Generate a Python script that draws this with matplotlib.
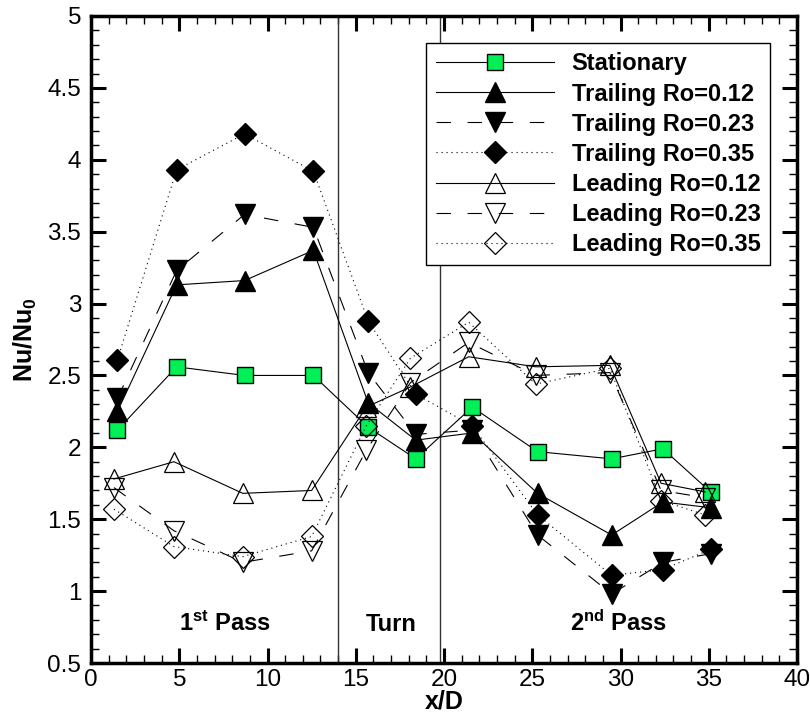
import matplotlib
matplotlib.use("Agg")
import matplotlib.pyplot as plt
from matplotlib.ticker import MultipleLocator

plt.rcParams['font.family'] = ['Liberation Sans', 'DejaVu Sans']
plt.rcParams['mathtext.fontset'] = 'custom'
plt.rcParams['mathtext.rm'] = 'Liberation Sans:bold'
plt.rcParams['mathtext.bf'] = 'Liberation Sans:bold'
plt.rcParams['mathtext.it'] = 'Liberation Sans:bold'

# ---- data ----
x_trail = [1.5, 4.85, 8.7, 12.6, 15.7, 18.4, 21.6, 25.3, 29.5, 32.4, 35.1]
x_lead = [1.3, 4.7, 8.6, 12.5, 15.6, 18.1, 21.4, 25.2, 29.4, 32.3, 34.8]

stationary = [2.12, 2.56, 2.50, 2.50, 2.14, 1.92, 2.28, 1.97, 1.92, 1.99, 1.69]
trail_012 = [2.25, 3.13, 3.16, 3.37, 2.31, 2.05, 2.10, 1.68, 1.39, 1.62, 1.58]
trail_023 = [2.34, 3.23, 3.62, 3.53, 2.52, 2.09, 2.12, 1.39, 0.98, 1.20, 1.26]
trail_035 = [2.61, 3.93, 4.18, 3.92, 2.88, 2.37, 2.15, 1.53, 1.11, 1.15, 1.29]
lead_012 = [1.78, 1.90, 1.68, 1.70, 2.28, 2.42, 2.63, 2.56, 2.57, 1.75, 1.69]
lead_023 = [1.72, 1.42, 1.20, 1.28, 1.98, 2.45, 2.73, 2.50, 2.52, 1.70, 1.65]
lead_035 = [1.57, 1.31, 1.24, 1.38, 2.15, 2.62, 2.87, 2.44, 2.55, 1.63, 1.53]

labels = ["Stationary", "Trailing Ro=0.12", "Trailing Ro=0.23", "Trailing Ro=0.35",
          "Leading Ro=0.12", "Leading Ro=0.23", "Leading Ro=0.35"]

region_x = [14.0, 19.8]
region_labels = ["1$^{\\mathregular{st}}$ Pass", "Turn", "2$^{\\mathregular{nd}}$ Pass"]
region_label_x = [7.6, 17.0, 29.9]

fig = plt.figure(figsize=(8.1, 7.19), dpi=100)
ax = fig.add_axes([91/810, 1-663/719, 706/810, 647/719])

lw = 0.8
dash = (0, (13, 15))
dot = (0, (1, 3.5))
green = '#00F055'

ax.plot(x_trail, stationary, color='black', lw=lw, ls='-', marker='s', ms=11.5,
        mfc=green, mec='black', mew=1.0, label=labels[0], zorder=3)
ax.plot(x_trail, trail_012, color='black', lw=lw, ls='-', marker='^', ms=14,
        mfc='black', mec='black', label=labels[1], zorder=3)
ax.plot(x_trail, trail_023, color='black', lw=lw, ls=dash, marker='v', ms=14,
        mfc='black', mec='black', label=labels[2], zorder=3)
ax.plot(x_trail, trail_035, color='black', lw=lw, ls=dot, marker='D', ms=11,
        mfc='black', mec='black', label=labels[3], zorder=3)
ax.plot(x_lead, lead_012, color='black', lw=lw, ls='-', marker='^', ms=14,
        mfc='none', mec='black', mew=0.9, label=labels[4], zorder=4)
ax.plot(x_lead, lead_023, color='black', lw=lw, ls=dash, marker='v', ms=14,
        mfc='none', mec='black', mew=0.9, label=labels[5], zorder=4)
ax.plot(x_lead, lead_035, color='black', lw=lw, ls=dot, marker='D', ms=11,
        mfc='none', mec='black', mew=0.9, label=labels[6], zorder=4)

for xv in region_x:
    ax.axvline(xv, color='#333333', lw=1.0, zorder=2)

for xt, t in zip(region_label_x, region_labels):
    ax.text(xt, 0.72, t, ha='center', va='baseline', fontsize=17, fontweight='bold')

ax.set_xlim(0, 40)
ax.set_ylim(0.5, 5)
ax.xaxis.set_major_locator(MultipleLocator(5))
ax.xaxis.set_minor_locator(MultipleLocator(1))
ax.yaxis.set_minor_locator(MultipleLocator(0.1))
ax.set_yticks([0.5, 1, 1.5, 2, 2.5, 3, 3.5, 4, 4.5, 5])
ax.set_yticklabels(['0.5', '1', '1.5', '2', '2.5', '3', '3.5', '4', '4.5', '5'])

ax.tick_params(which='both', direction='in', top=True, right=True, labelsize=17.5)
ax.tick_params(which='major', length=11, width=2.2)
ax.tick_params(axis='y', which='major', pad=7)
ax.tick_params(axis='x', which='major', pad=4)
ax.tick_params(which='minor', length=5.5, width=1.0)
for s in ax.spines.values():
    s.set_linewidth(2.5)

ax.set_xlabel('x/D', fontsize=18, fontweight='bold', labelpad=-1)
ax.set_ylabel('Nu/Nu$_{\\mathregular{0}}$', fontsize=18, fontweight='bold', labelpad=6)

leg = ax.legend(loc='upper right', bbox_to_anchor=(770/810, 1-43/719),
                bbox_transform=fig.transFigure, borderaxespad=0,
                prop={'weight': 'bold', 'size': 17}, numpoints=1,
                handlelength=5.0, handletextpad=0.75, labelspacing=0.3,
                borderpad=0.4, fancybox=False, framealpha=1, edgecolor='black')
leg.get_frame().set_linewidth(1.0)

fig.savefig('out.png', dpi=100)
